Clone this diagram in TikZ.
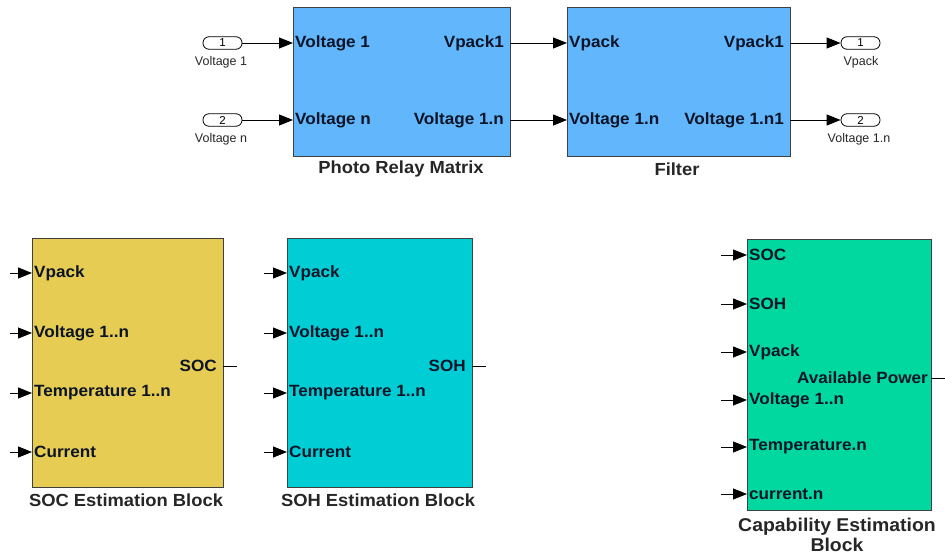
\documentclass[tikz,border=0pt]{standalone}
\usepackage{fontspec}
\setmainfont{Liberation Sans}
\newfontfamily\blkfont[FakeStretch=1.05]{Liberation Sans}
\usetikzlibrary{arrows.meta}
\definecolor{prmblue}{RGB}{98,182,252}
\definecolor{socyellow}{RGB}{230,204,82}
\definecolor{sohcyan}{RGB}{0,206,212}
\definecolor{capgreen}{RGB}{0,216,160}
\definecolor{txtdark}{RGB}{12,20,40}
\begin{document}
\begin{tikzpicture}[x=1pt,y=-1pt,
  blk/.style={draw=black!75, line width=1pt, anchor=north west, inner sep=0pt},
  portl/.style={anchor=west, inner xsep=2pt, inner ysep=0pt, font=\blkfont\fontsize{16.3}{18}\selectfont\bfseries, text=txtdark},
  portr/.style={anchor=east, inner xsep=6pt, inner ysep=0pt, font=\blkfont\fontsize{16.3}{18}\selectfont\bfseries, text=txtdark},
  capt/.style={font=\blkfont\fontsize{17.5}{20}\selectfont\bfseries, text=black!85, align=center},
  ioport/.style={draw=black, line width=0.8pt, rounded corners=6pt, minimum width=39pt, minimum height=12.5pt, inner sep=0pt, font=\fontsize{11.5}{12}\selectfont},
  iolbl/.style={font=\fontsize{12.5}{14}\selectfont, text=black!85},
  sig/.style={line width=0.9pt, -{Triangle[length=14pt,width=11pt]}},
  stub/.style={line width=0.9pt}
]
\useasboundingbox (0,0) rectangle (945,556);

% ---------- top row ----------
\node[blk, fill=prmblue, minimum width=217pt, minimum height=149pt] (prm) at (293,7) {};
\node[blk, fill=prmblue, minimum width=223pt, minimum height=149pt] (flt) at (567,7) {};
\node[capt] (prmcap) at (401,169) {Photo Relay Matrix};
\node[capt] (fltcap) at (677,169) {Filter};

\node[portl] (prmi1) at (293,43) {Voltage 1};
\node[portl] (prmi2) at (293,120) {Voltage n};
\node[portr] (prmo1) at (510,43) {Vpack1};
\node[portr] (prmo2) at (510,120) {Voltage 1.n};

\node[portl] (flti1) at (567,43) {Vpack};
\node[portl] (flti2) at (567,120) {Voltage 1.n};
\node[portr] (flto1) at (790,43) {Vpack1};
\node[portr] (flto2) at (790,120) {Voltage 1.n1};

\node[ioport] (in1) at (222.5,43) {1};
\node[ioport] (in2) at (222.5,120) {2};
\node[iolbl] (in1l) at (221,62) {Voltage 1};
\node[iolbl] (in2l) at (221,139) {Voltage n};

\node[ioport] (out1) at (860.5,43) {1};
\node[ioport] (out2) at (860.5,120) {2};
\node[iolbl] (out1l) at (861,62) {Vpack};
\node[iolbl] (out2l) at (859,139) {Voltage 1.n};

\draw[sig] (in1.east) -- (prmi1.west);
\draw[sig] (in2.east) -- (prmi2.west);
\draw[sig] (prmo1.east) -- (flti1.west);
\draw[sig] (prmo2.east) -- (flti2.west);
\draw[sig] (flto1.east) -- (out1.west);
\draw[sig] (flto2.east) -- (out2.west);

% ---------- SOC block ----------
\node[blk, fill=socyellow, minimum width=191pt, minimum height=249pt] (soc) at (32,238) {};
\node[capt] (soccap) at (126,500) {SOC Estimation Block};
\node[portl] (soci1) at (32,273) {Vpack};
\node[portl] (soci2) at (32,333) {Voltage 1..n};
\node[portl] (soci3) at (32,393) {Temperature 1..n};
\node[portl] (soci4) at (32,452) {Current};
\node[portr] (soco) at (223,366) {SOC};
\coordinate (soca1) at (10,273);
\coordinate (soca2) at (10,333);
\coordinate (soca3) at (10,393);
\coordinate (soca4) at (10,452);
\coordinate (socend) at (237,366);
\draw[sig] (soca1) -- (soci1.west);
\draw[sig] (soca2) -- (soci2.west);
\draw[sig] (soca3) -- (soci3.west);
\draw[sig] (soca4) -- (soci4.west);
\draw[stub] (soco.east) -- (socend);

% ---------- SOH block ----------
\node[blk, fill=sohcyan, minimum width=185pt, minimum height=249pt] (soh) at (287,238) {};
\node[capt] (sohcap) at (378,500) {SOH Estimation Block};
\node[portl] (sohi1) at (287,273) {Vpack};
\node[portl] (sohi2) at (287,333) {Voltage 1..n};
\node[portl] (sohi3) at (287,393) {Temperature 1..n};
\node[portl] (sohi4) at (287,452) {Current};
\node[portr] (soho) at (472,366) {SOH};
\coordinate (soha1) at (264,273);
\coordinate (soha2) at (264,333);
\coordinate (soha3) at (264,393);
\coordinate (soha4) at (264,452);
\coordinate (sohend) at (486,366);
\draw[sig] (soha1) -- (sohi1.west);
\draw[sig] (soha2) -- (sohi2.west);
\draw[sig] (soha3) -- (sohi3.west);
\draw[sig] (soha4) -- (sohi4.west);
\draw[stub] (soho.east) -- (sohend);

% ---------- Capability block ----------
\node[blk, fill=capgreen, minimum width=184pt, minimum height=271pt] (cap) at (747,239) {};
\node[capt, font=\blkfont\fontsize{18.5}{20.5}\selectfont\bfseries] (capcap) at (837,535) {Capability Estimation\\Block};
\node[portl] (capi1) at (747,255) {SOC};
\node[portl] (capi2) at (747,304) {SOH};
\node[portl] (capi3) at (747,352) {Vpack};
\node[portl] (capi4) at (747,400) {Voltage 1..n};
\node[portl] (capi5) at (747,447) {Temperature.n};
\node[portl] (capi6) at (747,494) {current.n};
\node[portr, inner xsep=3pt] (capo) at (931,378) {Available Power};
\coordinate (capa1) at (721,255);
\coordinate (capa2) at (721,304);
\coordinate (capa3) at (721,352);
\coordinate (capa4) at (721,400);
\coordinate (capa5) at (721,447);
\coordinate (capa6) at (721,494);
\coordinate (capend) at (945,378);
\draw[sig] (capa1) -- (capi1.west);
\draw[sig] (capa2) -- (capi2.west);
\draw[sig] (capa3) -- (capi3.west);
\draw[sig] (capa4) -- (capi4.west);
\draw[sig] (capa5) -- (capi5.west);
\draw[sig] (capa6) -- (capi6.west);
\draw[stub] (capo.east) -- (capend);
\end{tikzpicture}
\end{document}
